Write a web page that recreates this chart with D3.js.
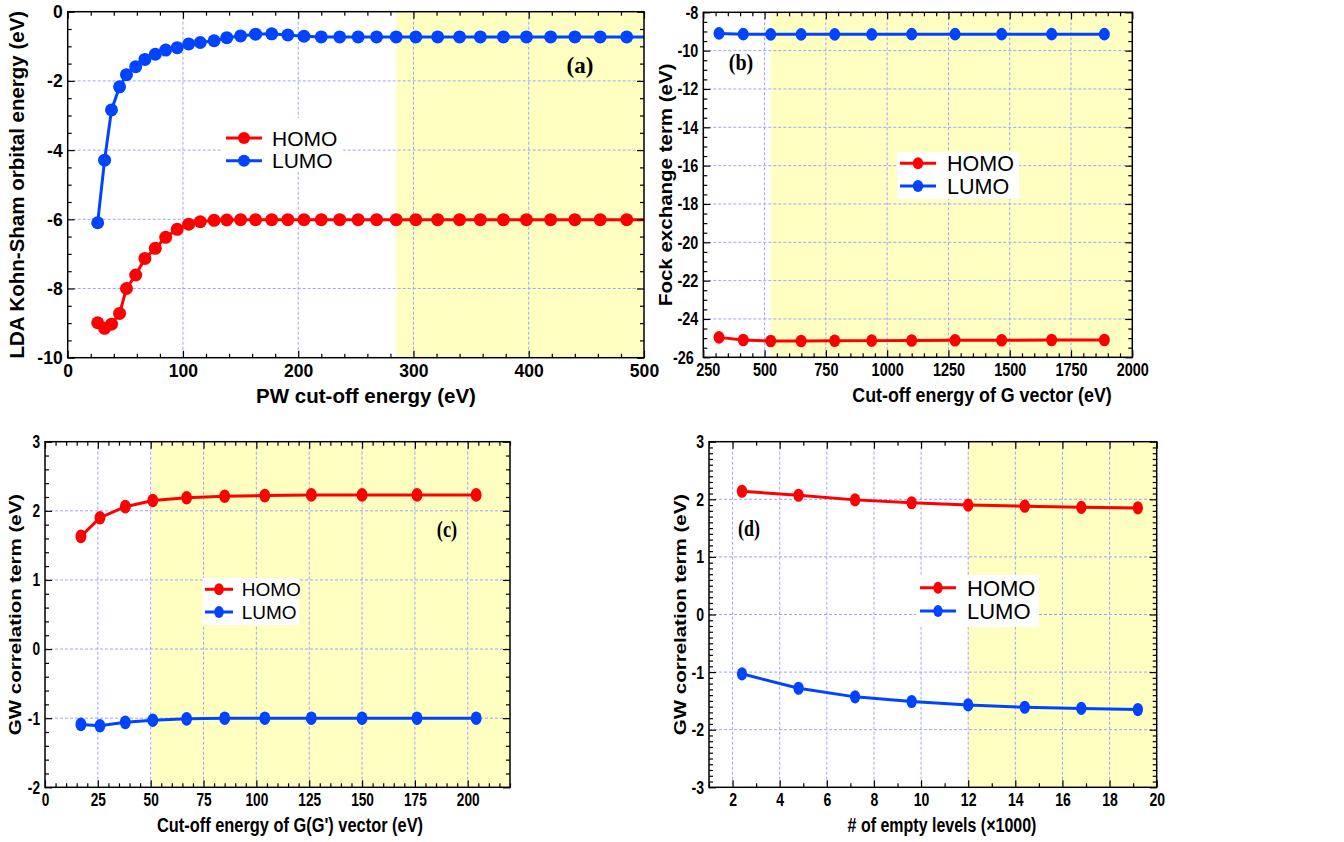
<!DOCTYPE html>
<html lang="en">
  <head>
    <meta charset="UTF-8" />
    <title>HOMO / LUMO convergence</title>
    <script src="https://d3js.org/d3.v7.min.js"></script>
    <style>
      body {
        margin: 0;
        background: #fff;
      }
      .axis path.domain {
        display: none;
      }
      .axis line {
        stroke: #000;
        stroke-width: 1.2;
      }
      .axis text {
        font-family: "Liberation Sans", Arial, sans-serif;
        font-weight: bold;
        font-size: 18.5px;
        fill: #000;
      }
      .grid line {
        stroke: #9ea3ff;
        stroke-width: 1;
        stroke-dasharray: 3, 2;
      }
      .title {
        font-family: "Liberation Sans", Arial, sans-serif;
        font-weight: bold;
        font-size: 20.5px;
      }
      .legend text {
        font-family: "Liberation Sans", Arial, sans-serif;
      }
      .tag {
        font-family: "Liberation Serif", "Times New Roman", serif;
        font-weight: bold;
        font-size: 23px;
      }
    </style>
  </head>
  <body>
    <svg id="fig" width="1344" height="842"></svg>

    <script>
      // (a) LDA Kohn-Sham orbital energy vs PW cut-off
      const cutPW = [26, 32, 38, 45, 51, 59, 67, 76, 85, 95, 105, 115, 127, 138, 150, 163, 177, 191,
        205, 220, 236, 252, 268, 285, 302, 321, 340, 358, 378, 398, 419, 440, 462, 485, 508];
      const homoLDA = [-8.99, -9.15, -9.03, -8.72, -8.0, -7.61, -7.13, -6.84, -6.52, -6.29, -6.14,
        -6.07, -6.03, -6.02, -6.01, -6.01, -6.01, -6.01, -6.01, -6.01, -6.01, -6.01, -6.01, -6.01,
        -6.01, -6.01, -6.01, -6.01, -6.01, -6.01, -6.01, -6.01, -6.01, -6.01, -6.01];
      const lumoLDA = [-6.1, -4.29, -2.84, -2.17, -1.82, -1.59, -1.38, -1.23, -1.11, -1.04, -0.93,
        -0.89, -0.84, -0.75, -0.7, -0.65, -0.64, -0.67, -0.71, -0.73, -0.73, -0.73, -0.73, -0.73,
        -0.73, -0.73, -0.73, -0.73, -0.73, -0.73, -0.73, -0.73, -0.73, -0.73, -0.73];

      // (b) Fock exchange term vs G cut-off
      const cutFock = [314, 413, 525, 649, 786, 937, 1100, 1277, 1467, 1671, 1886];
      const homoFock = [-24.96, -25.1, -25.15, -25.15, -25.14, -25.13, -25.12, -25.11, -25.11, -25.1, -25.1];
      const lumoFock = [-9.1, -9.14, -9.15, -9.15, -9.15, -9.15, -9.14, -9.14, -9.14, -9.14, -9.14];

      // (c) GW correlation term vs G(G') cut-off
      const cutGG = [17, 26, 38, 51, 67, 85, 104, 126, 150, 176, 204];
      const homoCorrG = [1.63, 1.9, 2.06, 2.15, 2.19, 2.21, 2.22, 2.23, 2.23, 2.23, 2.23];
      const lumoCorrG = [-1.09, -1.11, -1.06, -1.03, -1.01, -1.0, -1.0, -1.0, -1.0, -1.0, -1.0];

      // (d) GW correlation term vs number of empty levels (x1000)
      const nEmpty = [2.4, 4.8, 7.2, 9.6, 12, 14.4, 16.8, 19.2];
      const homoCorrN = [2.14, 2.07, 1.99, 1.94, 1.9, 1.88, 1.86, 1.85];
      const lumoCorrN = [-1.03, -1.28, -1.43, -1.51, -1.57, -1.61, -1.63, -1.65];

      const seriesNames = ["HOMO", "LUMO"];
      const seriesColors = ["#ff0000", "#0044ff"];
      const shadeColor = "#ffffc2";

      // layout of each panel (pixels) - panels were squeezed sideways by different amounts (sx)
      const panels = [
        {
          tag: "(a)", xs: cutPW, ys: [homoLDA, lumoLDA], shadeFrom: 285,
          left: 67.7, right: 644, top: 11.7, bottom: 357.7,
          xDom: [0, 500], yDom: [-10, 0],
          xMajor: d3.range(0, 501, 100), xMinor: d3.range(0, 501, 20),
          yMajor: d3.range(-10, 0.01, 2), yMinor: d3.range(-10, 0.01, 0.5),
          sx: 1, tickSx: 0.95, r: 6.5, corner: 0,
          xTitle: "PW cut-off energy (eV)", xTitleX: 366,
          yTitle: "LDA Kohn-Sham orbital energy (eV)", yTitleOff: 44,
          tagX: 580, tagY: 73,
          legend: { box: [222, 118, 343, 172], rows: [138, 160.7], line: [226, 262], text: 272, size: 21 },
        },
        {
          tag: "(b)", xs: cutFock, ys: [homoFock, lumoFock], shadeFrom: 525,
          left: 703.3, right: 1132.3, top: 12.3, bottom: 357.3,
          xDom: [250, 2000], yDom: [-26, -8],
          xMajor: d3.range(250, 2001, 250), xMinor: d3.range(250, 2001, 50),
          yMajor: d3.range(-26, -7.99, 2), yMinor: d3.range(-26, -7.99, 0.5),
          sx: 0.87, tickSx: 0.78, r: 6.3, corner: 4.5,
          xTitle: "Cut-off energy of G vector (eV)", xTitleX: 982,
          yTitle: "Fock exchange term (eV)", yTitleOff: 31,
          tagX: 741, tagY: 70,
          legend: { box: [897, 152, 1019, 199], rows: [163.3, 186], line: [900, 936], text: 947, size: 21.5 },
        },
        {
          tag: "(c)", xs: cutGG, ys: [homoCorrG, lumoCorrG], shadeFrom: 50.5,
          left: 45, right: 510, top: 441.7, bottom: 787.3,
          xDom: [0, 220], yDom: [-2, 3],
          xMajor: d3.range(0, 201, 25), xMinor: d3.range(0, 221, 5),
          yMajor: d3.range(-2, 3.01, 1), yMinor: d3.range(-2, 3.01, 0.2),
          sx: 0.8, tickSx: 0.74, r: 6.8, corner: 0,
          xTitle: "Cut-off energy of G(G') vector (eV)", xTitleX: 290,
          yTitle: "GW correlation term (eV)", yTitleOff: 24,
          tagX: 447, tagY: 537,
          legend: { box: [202.7, 578, 299, 625], rows: [589.3, 612], line: [205, 233], text: 241.7, size: 19 },
        },
        {
          tag: "(d)", xs: nEmpty, ys: [homoCorrN, lumoCorrN], shadeFrom: 12,
          left: 709, right: 1156.7, top: 441.7, bottom: 787.3,
          xDom: [1, 20], yDom: [-3, 3],
          xMajor: d3.range(2, 20.01, 2), xMinor: d3.range(1, 20.01, 1),
          yMajor: d3.range(-3, 3.01, 1), yMinor: d3.range(-3, 3.01, 0.1),
          sx: 0.78, tickSx: 0.76, r: 6.6, corner: 0,
          xTitle: "# of empty levels (\u00d71000)", xTitleX: 942,
          yTitle: "GW correlation term (eV)", yTitleOff: 23,
          tagX: 749, tagY: 536,
          legend: { box: [916, 575, 1039, 627], rows: [587.7, 611], line: [920, 956], text: 967, size: 22 },
        },
      ];

      const svg = d3.select("#fig");

      // horizontal text squeezed sideways like the original panel
      function hText(g, x, y, str, sx, cls) {
        return g
          .append("g")
          .attr("transform", `translate(${x},${y}) scale(${sx},1)`)
          .append("text")
          .attr("class", cls || null)
          .text(str);
      }

      // drop minor ticks that sit on a major one
      function minorOnly(minor, major) {
        return minor.filter((v) => !major.some((m) => Math.abs(m - v) < 1e-6));
      }

      function drawPanel(p, i) {
        const w = p.right - p.left,
          h = p.bottom - p.top;
        const g = svg.append("g").attr("transform", `translate(${p.left},${p.top})`);

        const x = d3.scaleLinear().domain(p.xDom).range([0, w]);
        const y = d3.scaleLinear().domain(p.yDom).range([h, 0]);

        // converged region
        g.append("rect")
          .attr("x", x(p.shadeFrom))
          .attr("y", 0)
          .attr("width", w - x(p.shadeFrom))
          .attr("height", h)
          .attr("fill", shadeColor);

        // grid lines at major ticks
        const grid = g.append("g").attr("class", "grid");
        grid.selectAll(".gx")
          .data(p.xMajor.filter((v) => v > p.xDom[0] && v < p.xDom[1]))
          .join("line")
          .attr("x1", (d) => x(d)).attr("x2", (d) => x(d))
          .attr("y1", 0).attr("y2", h);
        grid.selectAll(".gy")
          .data(p.yMajor.filter((v) => v > p.yDom[0] && v < p.yDom[1]))
          .join("line")
          .attr("class", "gy")
          .attr("x1", 0).attr("x2", w)
          .attr("y1", (d) => y(d)).attr("y2", (d) => y(d));

        // data lines and markers
        const clipId = "clip" + i;
        g.append("clipPath").attr("id", clipId)
          .append("rect").attr("width", w).attr("height", h);

        p.ys.forEach((vals, k) => {
          const pts = p.xs.map((xv, j) => [xv, vals[j]]);
          g.append("path")
            .datum(pts)
            .attr("clip-path", `url(#${clipId})`)
            .attr("fill", "none")
            .attr("stroke", seriesColors[k])
            .attr("stroke-width", 3)
            .attr("d", d3.line().x((d) => x(d[0])).y((d) => y(d[1])));
          g.append("g")
            .selectAll("ellipse")
            .data(pts.filter((d) => d[0] <= p.xDom[1]))
            .join("ellipse")
            .attr("cx", (d) => x(d[0]))
            .attr("cy", (d) => y(d[1]))
            .attr("rx", p.r * p.sx)
            .attr("ry", p.r)
            .attr("fill", seriesColors[k]);
        });

        // legend
        const L = p.legend;
        const lg = svg.append("g").attr("class", "legend");
        lg.append("rect")
          .attr("x", L.box[0]).attr("y", L.box[1])
          .attr("width", L.box[2] - L.box[0]).attr("height", L.box[3] - L.box[1])
          .attr("fill", "#fff");
        seriesNames.forEach((name, k) => {
          const ry = L.rows[k];
          lg.append("line")
            .attr("x1", L.line[0]).attr("x2", L.line[1])
            .attr("y1", ry).attr("y2", ry)
            .attr("stroke", seriesColors[k]).attr("stroke-width", 3);
          lg.append("ellipse")
            .attr("cx", (L.line[0] + L.line[1]) / 2).attr("cy", ry)
            .attr("rx", 6 * p.sx).attr("ry", 6)
            .attr("fill", seriesColors[k]);
          hText(lg, L.text, ry, name, 1)
            .attr("dy", "0.36em")
            .attr("font-size", L.size + "px");
        });

        // frame
        g.append("rect")
          .attr("width", w).attr("height", h)
          .attr("fill", "none").attr("stroke", "#000").attr("stroke-width", 1.5);

        // ticks on all four sides, pointing inwards
        const fmt = (d) => String(d);
        const xMin = minorOnly(p.xMinor, p.xMajor),
          yMin = minorOnly(p.yMinor, p.yMajor);

        const bottom = g.append("g").attr("class", "axis").attr("transform", `translate(0,${h})`)
          .call(d3.axisBottom(x).tickValues(p.xMajor).tickSize(-7).tickPadding(6).tickFormat(fmt));
        bottom.selectAll("text").attr("transform", `scale(${p.tickSx},1)`);
        g.append("g").attr("class", "axis").attr("transform", `translate(0,${h})`)
          .call(d3.axisBottom(x).tickValues(xMin).tickSize(-4).tickFormat(""));
        g.append("g").attr("class", "axis")
          .call(d3.axisTop(x).tickValues(p.xMajor).tickSize(-7).tickFormat(""));
        g.append("g").attr("class", "axis")
          .call(d3.axisTop(x).tickValues(xMin).tickSize(-4).tickFormat(""));

        const left = g.append("g").attr("class", "axis")
          .call(d3.axisLeft(y).tickValues(p.yMajor).tickSize(-7).tickPadding(5).tickFormat(fmt));
        left.selectAll("text")
          .attr("x", -5 / p.tickSx)
          .attr("transform", `scale(${p.tickSx},1)`);

        // corner labels that would collide: push them apart a little
        if (p.corner) {
          bottom.selectAll("text").filter((d) => d === p.xDom[0])
            .attr("x", p.corner / p.tickSx);
          left.selectAll("text").filter((d) => d === p.yDom[0])
            .attr("x", -(5 + p.corner) / p.tickSx);
        }

        g.append("g").attr("class", "axis")
          .call(d3.axisLeft(y).tickValues(yMin).tickSize(-4).tickFormat(""));
        g.append("g").attr("class", "axis").attr("transform", `translate(${w},0)`)
          .call(d3.axisRight(y).tickValues(p.yMajor).tickSize(-7).tickFormat(""));
        g.append("g").attr("class", "axis").attr("transform", `translate(${w},0)`)
          .call(d3.axisRight(y).tickValues(yMin).tickSize(-4).tickFormat(""));

        // axis titles
        hText(svg, p.xTitleX, p.bottom + 45, p.xTitle, p.sx, "title")
          .attr("text-anchor", "middle");
        svg.append("g")
          .attr("transform", `translate(${p.left - p.yTitleOff},${(p.top + p.bottom) / 2}) scale(${p.sx},1) rotate(-90)`)
          .append("text")
          .attr("class", "title")
          .attr("text-anchor", "middle")
          .text(p.yTitle);

        // panel tag
        hText(svg, p.tagX, p.tagY, p.tag, p.sx, "tag").attr("text-anchor", "middle");
      }

      panels.forEach(drawPanel);
    </script>
  </body>
</html>
